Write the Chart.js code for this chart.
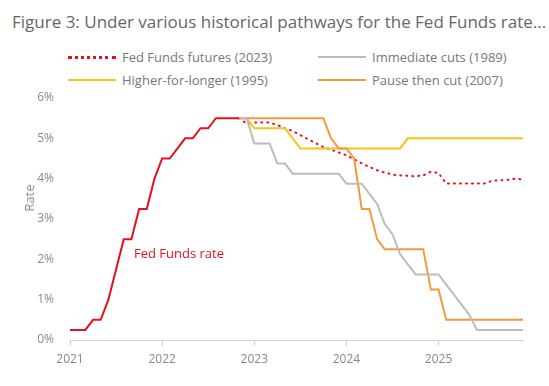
<!DOCTYPE html>
<html>
<head>
<meta charset="utf-8">
<script src="https://cdn.jsdelivr.net/npm/chart.js@4.4.0/dist/chart.umd.min.js"></script>
<style>
  html, body { margin: 0; padding: 0; background: #fff; }
  body { width: 549px; height: 386px; position: relative; overflow: hidden; font-family: "Open Sans", sans-serif; }
  #title { position: absolute; left: 12px; top: 10px; font-size: 17px; color: #666; white-space: nowrap; }
  .leg { position: absolute; font-size: 13px; color: #777; white-space: nowrap; line-height: 16px; }
  .mk { position: absolute; width: 48px; }
  #wrap { position: absolute; left: 0; top: 0; width: 549px; height: 386px; }
  #ffr { position: absolute; left: 134px; top: 244px; font-size: 13px; color: #e3121b; white-space: nowrap; }
  #ytitle { position: absolute; left: 29px; top: 198px; font-size: 13px; color: #888; white-space: nowrap; transform: translate(-50%, -50%) rotate(-90deg); line-height: 16px; }
</style>
</head>
<body>
<div id="title">Figure 3: Under various historical pathways for the Fed Funds rate...</div>
<div id="legend"></div>
<div id="wrap"><canvas id="c" width="549" height="386"></canvas></div>
<div id="ffr">Fed Funds rate</div>
<div id="ytitle">Rate</div>
<script>
// Tick labels (years) and y tick labels
const yearLabels = ["2021", "2022", "2023", "2024", "2025"];
const yTickLabels = ["0%", "1%", "2%", "3%", "4%", "5%", "6%"];

// Fed Funds rate, monthly from Jan 2021 (month 0) to month 22
const fedFundsRate = [0.25, 0.25, 0.25, 0.5, 0.5, 1.0, 1.75, 2.5, 2.5, 3.25, 3.25, 4.0, 4.5, 4.5, 4.75, 5.0, 5.0, 5.25, 5.25, 5.5, 5.5, 5.5, 5.5];

// Scenarios, monthly from month 22 to month 59
const scenarioStart = 22;
const fedFundsFutures = [5.5, 5.37, 5.39, 5.39, 5.39, 5.33, 5.25, 5.18, 5.08, 4.98, 4.88, 4.78, 4.72, 4.65, 4.58, 4.48, 4.38, 4.29, 4.21, 4.15, 4.10, 4.08, 4.07, 4.06, 4.08, 4.17, 4.14, 3.88, 3.88, 3.88, 3.88, 3.88, 3.88, 3.95, 3.96, 3.97, 4.00, 3.98];
const immediateCuts = [5.5, 5.5, 4.875, 4.875, 4.875, 4.375, 4.375, 4.125, 4.125, 4.125, 4.125, 4.125, 4.125, 4.125, 3.875, 3.875, 3.875, 3.625, 3.375, 2.875, 2.625, 2.125, 1.875, 1.625, 1.625, 1.625, 1.625, 1.375, 1.125, 0.875, 0.625, 0.25, 0.25, 0.25, 0.25, 0.25, 0.25, 0.25];
const higherForLonger = [5.5, 5.5, 5.25, 5.25, 5.25, 5.25, 5.25, 5.0, 4.75, 4.75, 4.75, 4.75, 4.75, 4.75, 4.75, 4.75, 4.75, 4.75, 4.75, 4.75, 4.75, 4.75, 5.0, 5.0, 5.0, 5.0, 5.0, 5.0, 5.0, 5.0, 5.0, 5.0, 5.0, 5.0, 5.0, 5.0, 5.0, 5.0];
const pauseThenCut = [5.5, 5.5, 5.5, 5.5, 5.5, 5.5, 5.5, 5.5, 5.5, 5.5, 5.5, 5.5, 5.0, 4.75, 4.75, 4.5, 3.25, 3.25, 2.5, 2.25, 2.25, 2.25, 2.25, 2.25, 2.25, 1.25, 1.25, 0.5, 0.5, 0.5, 0.5, 0.5, 0.5, 0.5, 0.5, 0.5, 0.5, 0.5];

const seriesNames = ["Fed Funds futures (2023)", "Immediate cuts (1989)", "Higher-for-longer (1995)", "Pause then cut (2007)"];

const RED = "#e3121b", GREY = "#bcbcbc", YELLOW = "#f4c51a", ORANGE = "#f5993a";

function pts(arr, start) { return arr.map((v, i) => ({ x: start + i, y: v })); }

// HTML legend
const legendItems = [
  { name: seriesNames[0], color: RED, dotted: true, left: 68, top: 49 },
  { name: seriesNames[1], color: GREY, dotted: false, left: 318, top: 49 },
  { name: seriesNames[2], color: YELLOW, dotted: false, left: 68, top: 72 },
  { name: seriesNames[3], color: ORANGE, dotted: false, left: 318, top: 72 }
];
const legEl = document.getElementById("legend");
legendItems.forEach(it => {
  const mk = document.createElement("div");
  mk.className = "mk";
  mk.style.left = it.left + "px";
  mk.style.top = (it.top + 7) + "px";
  mk.style.borderTop = it.dotted ? ("3px dotted " + it.color) : ("2px solid " + it.color);
  legEl.appendChild(mk);
  const t = document.createElement("div");
  t.className = "leg";
  t.style.left = (it.left + 54) + "px";
  t.style.top = it.top + "px";
  t.textContent = it.name;
  legEl.appendChild(t);
});

new Chart(document.getElementById("c"), {
  type: "line",
  data: {
    datasets: [
      { label: "Fed Funds rate", data: pts(fedFundsRate, 0), borderColor: RED, borderWidth: 2 },
      { label: seriesNames[1], data: pts(immediateCuts, scenarioStart), borderColor: GREY, borderWidth: 2 },
      { label: seriesNames[3], data: pts(pauseThenCut, scenarioStart), borderColor: ORANGE, borderWidth: 2 },
      { label: seriesNames[2], data: pts(higherForLonger, scenarioStart), borderColor: YELLOW, borderWidth: 2 },
      { label: seriesNames[0], data: pts(fedFundsFutures, scenarioStart), borderColor: RED, borderWidth: 2, borderDash: [1, 5], borderCapStyle: "round" }
    ]
  },
  options: {
    responsive: false,
    animation: false,
    events: [],
    layout: { padding: { top: 98, right: 26, bottom: 0, left: 0 } },
    elements: { point: { radius: 0 }, line: { tension: 0, fill: false } },
    plugins: { legend: { display: false }, title: { display: false }, tooltip: { enabled: false } },
    scales: {
      x: {
        type: "linear", min: 0, max: 59,
        afterFit: s => { s.height = 46; },
        afterBuildTicks: s => { s.ticks = yearLabels.map((l, i) => ({ value: i * 12 })); },
        grid: { drawOnChartArea: false, drawTicks: true, tickLength: 6, color: "#d0d0d0" },
        border: { display: true, color: "#d0d0d0" },
        ticks: { color: "#888", font: { family: "Open Sans", size: 12 }, padding: 6, callback: (v) => yearLabels[Math.round(v / 12)] }
      },
      y: {
        min: 0, max: 6,
        afterFit: s => { s.width = 70; },
        grid: { display: false },
        border: { display: false },
        ticks: { stepSize: 1, color: "#888", font: { family: "Open Sans", size: 12 }, padding: 8, callback: (v) => yTickLabels[v] },
        title: { display: false }
      }
    }
  }
});
</script>
</body>
</html>
